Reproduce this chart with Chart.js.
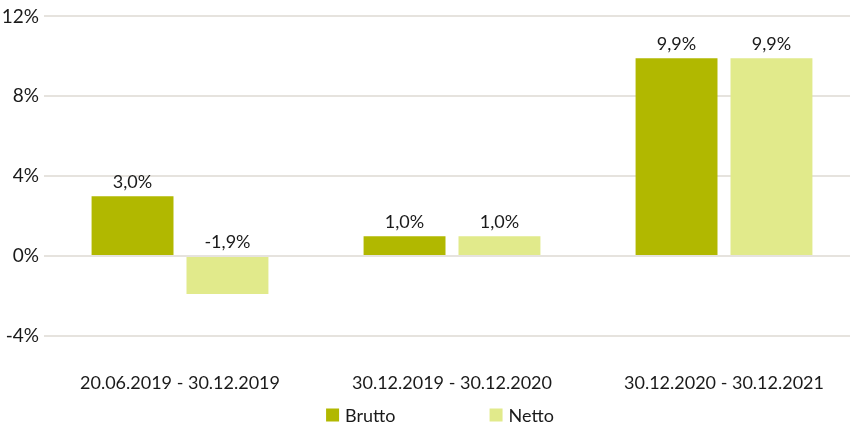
<!DOCTYPE html>
<html>
<head>
<meta charset="utf-8">
<script src="https://cdn.jsdelivr.net/npm/chart.js@4"></script>
<style>
  html, body { margin: 0; padding: 0; background: #fff; overflow: hidden; }
  #wrap { width: 850px; height: 423px; overflow: hidden; }
</style>
</head>
<body>
<div id="wrap"><canvas id="chart" width="860" height="423"></canvas></div>
<script>
// chart data
const categories = ['20.06.2019 - 30.12.2019', '30.12.2019 - 30.12.2020', '30.12.2020 - 30.12.2021'];
const seriesNames = ['Brutto', 'Netto'];
const brutto = [3.0, 1.0, 9.9];
const netto = [-1.9, 1.0, 9.9];
const yTicks = [-4, 0, 4, 8, 12];

const colors = ['#b1b800', '#e1ea8b'];
const FONT = 'Lato, "Open Sans", sans-serif';
const TEXT = '#1a1a1a';

function fmt(v) {
    return v.toFixed(1).replace('.', ',') + '%';
}

// value labels above the bars (negative ones sit above the zero line)
const valueLabels = {
    id: 'valueLabels',
    afterDatasetsDraw(chart) {
        const ctx = chart.ctx;
        const y = chart.scales.y;
        ctx.save();
        ctx.font = '18px ' + FONT;
        ctx.fillStyle = TEXT;
        ctx.textAlign = 'center';
        ctx.textBaseline = 'bottom';
        chart.data.datasets.forEach((ds, i) => {
            chart.getDatasetMeta(i).data.forEach((bar, j) => {
                const v = ds.data[j];
                const py = y.getPixelForValue(Math.max(v, 0));
                ctx.fillText(fmt(v), bar.x, py - 5);
            });
        });
        ctx.restore();
    }
};

// legend drawn at the bottom
const bottomLegend = {
    id: 'bottomLegend',
    afterDraw(chart) {
        const ctx = chart.ctx;
        ctx.save();
        ctx.font = '18px ' + FONT;
        ctx.textBaseline = 'middle';
        ctx.textAlign = 'left';
        const box = 13, gap = 6, itemGap = 94;
        const items = chart.data.datasets.map(ds => ({ text: ds.label, color: ds.backgroundColor }));
        const widths = items.map(it => box + gap + ctx.measureText(it.text).width);
        const total = widths.reduce((a, b) => a + b, 0) + itemGap * (items.length - 1);
        let x = 440 - total / 2;
        const cy = 415;
        items.forEach((it, i) => {
            ctx.fillStyle = it.color;
            ctx.fillRect(x, cy - box / 2, box, box);
            ctx.fillStyle = TEXT;
            ctx.fillText(it.text, x + box + gap, cy + 1);
            x += widths[i] + itemGap;
        });
        ctx.restore();
    }
};

new Chart(document.getElementById('chart'), {
    type: 'bar',
    data: {
        labels: categories,
        datasets: [
            { label: seriesNames[0], data: brutto, backgroundColor: colors[0] },
            { label: seriesNames[1], data: netto, backgroundColor: colors[1] }
        ]
    },
    options: {
        responsive: false,
        animation: false,
        layout: { padding: { top: 16, right: 0, left: 0, bottom: 0 } },
        datasets: {
            bar: { categoryPercentage: 0.698, barPercentage: 0.863 }
        },
        plugins: {
            legend: { display: false },
            tooltip: { enabled: false }
        },
        scales: {
            x: {
                grid: { display: false, drawTicks: false },
                border: { display: false },
                ticks: {
                    color: TEXT,
                    font: { family: FONT, size: 18 },
                    padding: 36,
                    maxRotation: 0
                },
                afterFit(scale) { scale.height = 87; }
            },
            y: {
                min: -4,
                max: 12,
                afterBuildTicks(scale) { scale.ticks = yTicks.map(v => ({ value: v })); },
                grid: { color: '#e6e3de', lineWidth: 2, drawTicks: false },
                border: { display: false },
                ticks: {
                    color: TEXT,
                    font: { family: FONT, size: 19 },
                    padding: 5,
                    callback: v => v + '%'
                },
                afterFit(scale) { scale.width = 44; }
            }
        }
    },
    plugins: [valueLabels, bottomLegend]
});
</script>
</body>
</html>
